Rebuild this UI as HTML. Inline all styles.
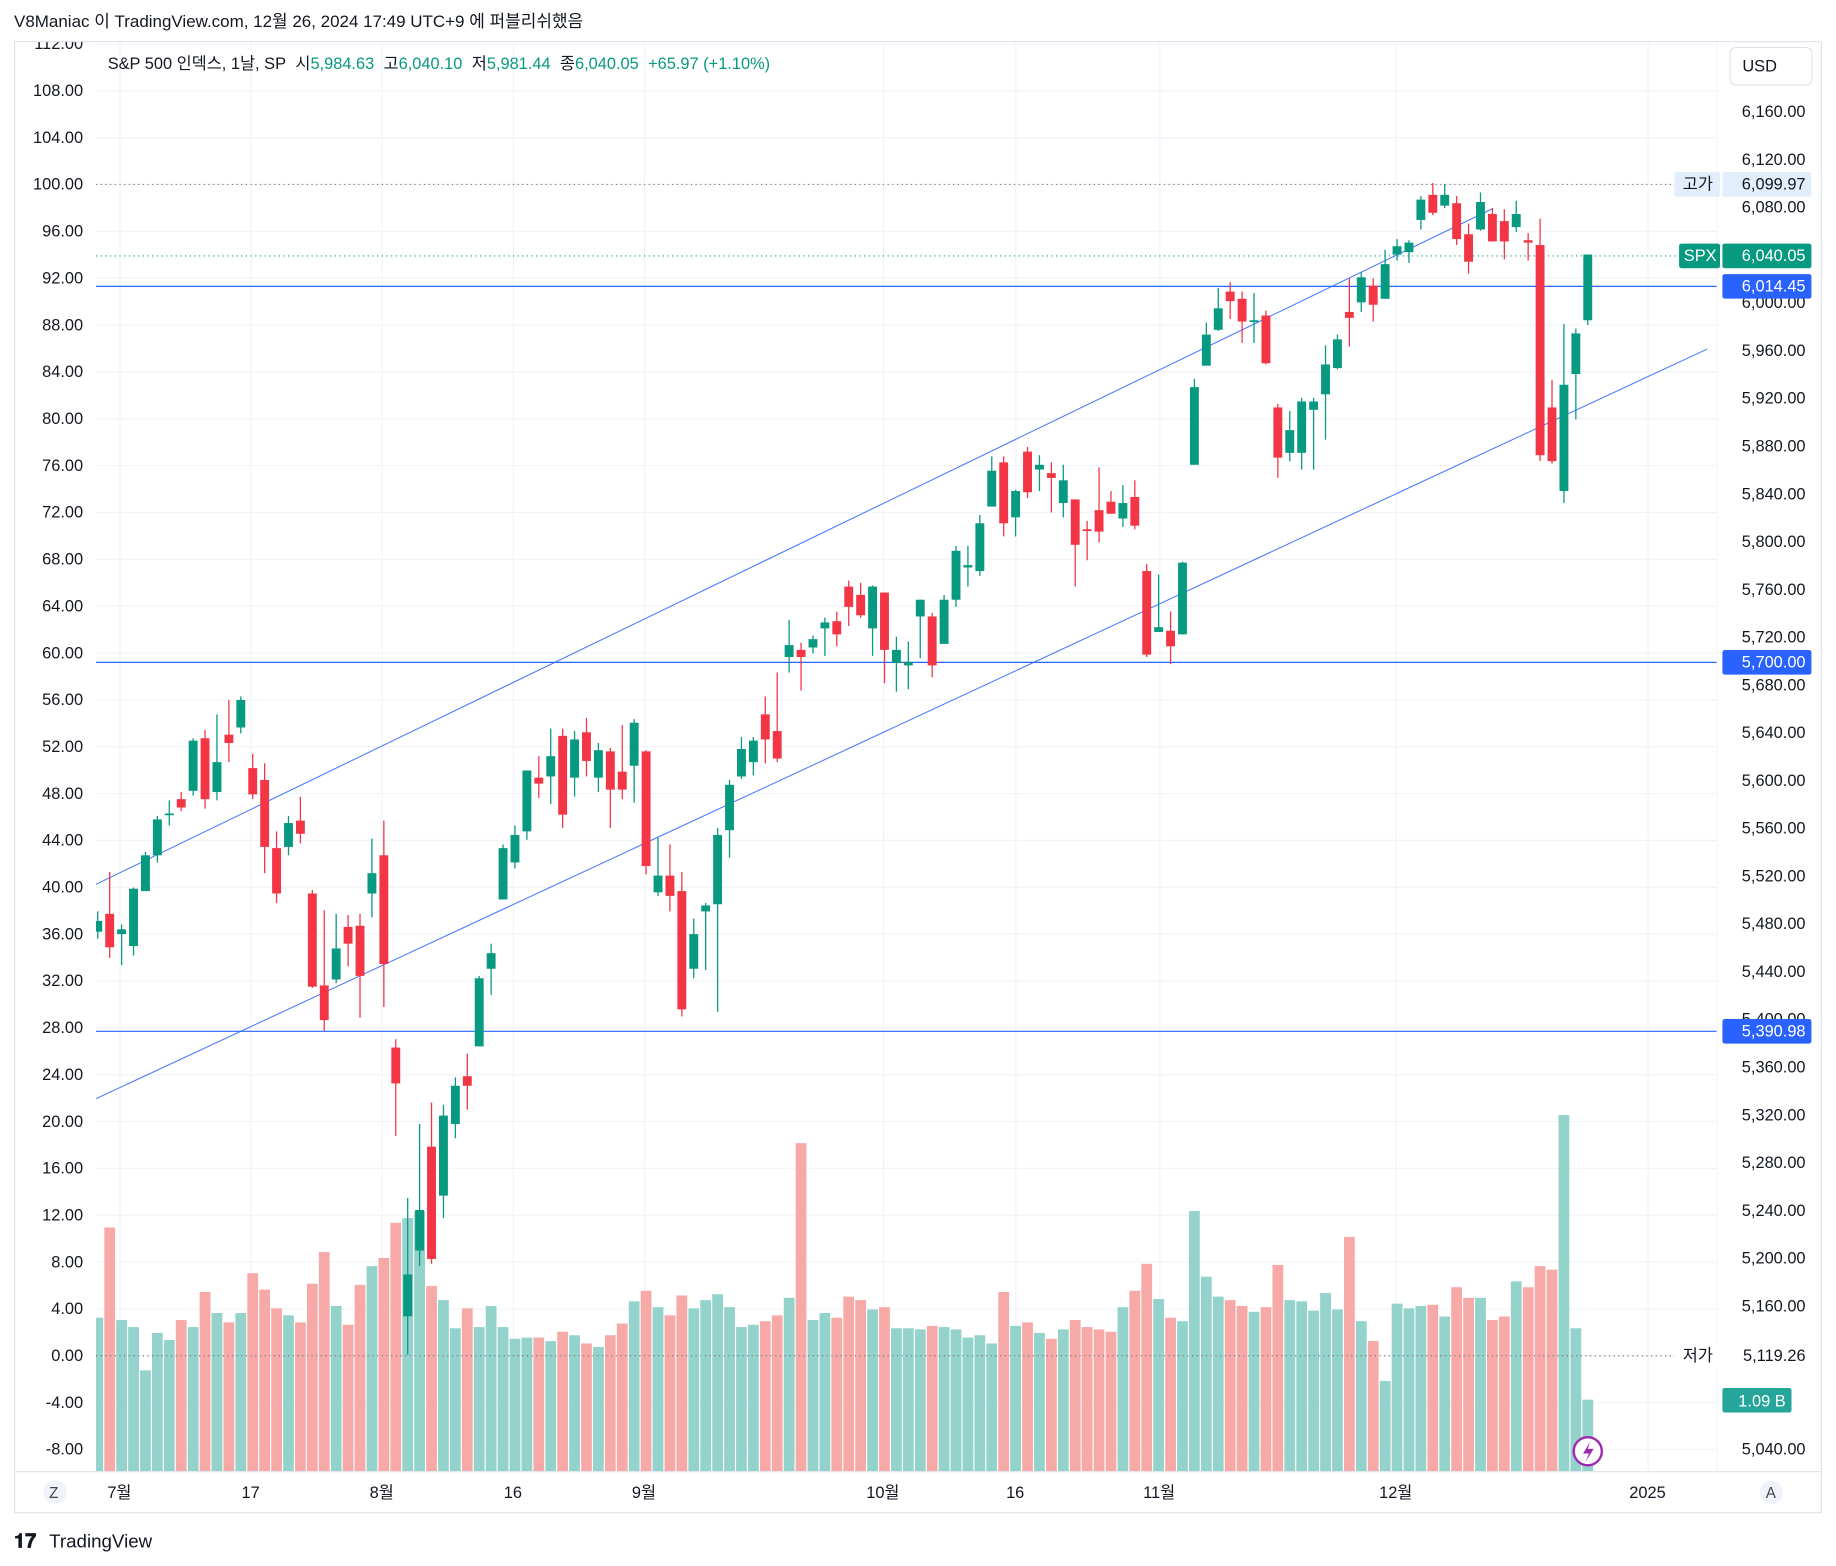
<!DOCTYPE html>
<html><head><meta charset="utf-8"><style>
html,body{margin:0;padding:0;background:#fff;width:1836px;height:1566px;overflow:hidden}
svg{display:block}
text{font-family:"Liberation Sans","Noto Sans CJK KR",sans-serif;}
</style></head><body>
<svg id="s" width="1836" height="1566" viewBox="0 0 1568 1337" preserveAspectRatio="none" xmlns="http://www.w3.org/2000/svg">
<defs><clipPath id="pc"><rect x="82" y="36" width="1384" height="1220"/></clipPath>
<clipPath id="fc"><rect x="12" y="36" width="1543" height="1256"/></clipPath></defs>
<rect width="1568" height="1337" fill="#fff"/>
<text x="12" y="23" font-size="14.5" fill="#131722">V8Maniac 이 TradingView.com, 12월 26, 2024 17:49 UTC+9 에 퍼블리쉬했음</text>
<rect x="12.5" y="35.5" width="1543" height="1256" fill="none" stroke="#e0e3eb"/>
<g id="grid" stroke="#f0f3fa" stroke-width="1"></g>
<g clip-path="url(#pc)"><g id="vol"></g><g id="lines"></g><g id="candles"></g></g>
<g id="labels" font-size="14" fill="#131722" clip-path="url(#fc)"></g>
<line x1="12" y1="1256.5" x2="1555" y2="1256.5" stroke="#e0e3eb"/>
<text x="92" y="59" font-size="14" fill="#131722">S&amp;P 500 인덱스, 1날, SP<tspan dx="8">시</tspan><tspan fill="#089981">5,984.63</tspan><tspan dx="8">고</tspan><tspan fill="#089981">6,040.10</tspan><tspan dx="8">저</tspan><tspan fill="#089981">5,981.44</tspan><tspan dx="8">종</tspan><tspan fill="#089981">6,040.05</tspan><tspan dx="8" fill="#089981">+65.97 (+1.10%)</tspan></text>
<rect x="1477.5" y="40.5" width="70" height="32" rx="5" fill="#fff" stroke="#e0e3eb"/>
<text x="1488" y="61" font-size="14" fill="#131722">USD</text>
<circle cx="47" cy="1274" r="10" fill="#f0f3fa"/><text x="42" y="1279" font-size="13" fill="#434651">Z</text>
<circle cx="1513" cy="1274" r="10" fill="#f0f3fa"/><text x="1508" y="1279" font-size="13" fill="#434651">A</text>
<circle cx="1356" cy="1239" r="12" fill="#fff" stroke="#9c27b0" stroke-width="2"/>
<path d="M1358 1231 L1352 1241 L1357 1241 L1354 1248 L1361 1237 L1356 1237 Z" fill="#9c27b0"/>
<text x="12" y="1321" font-size="17" font-weight="bold" fill="#131722">𝟏𝟕</text>
<text x="42" y="1321" font-size="16" fill="#131722">TradingView</text>
</svg>
<script>
const NS="http://www.w3.org/2000/svg";
function el(p,t,a,txt){const e=document.createElementNS(NS,t);for(const k in a)e.setAttribute(k,a[k]);if(txt!==undefined)e.textContent=txt;document.getElementById(p).appendChild(e);return e;}
const Y=p=>95+(6160-p)*1.0196;
for(let v=112,y=37;v>=-8;v-=4,y+=40){el('grid','line',{x1:82,x2:1466,y1:y+0.5,y2:y+0.5});}
const tl=[[102,'7월'],[214,'17'],[326,'8월'],[438,'16'],[550,'9월'],[754,'10월'],[867,'16'],[990,'11월'],[1192,'12월'],[1407,'2025']];
tl.forEach(t=>{el('grid','line',{x1:t[0]+.5,x2:t[0]+.5,y1:36,y2:1256});});
el('grid','line',{x1:1466.5,x2:1466.5,y1:36,y2:1256});
for(let v=112,y=37;v>=-8;v-=4,y+=40){el('labels','text',{x:71,y:y+5,'text-anchor':'end'},v.toFixed(2));}
[6160,6120,6080,6000,5960,5920,5880,5840,5800,5760,5720,5680,5640,5600,5560,5520,5480,5440,5400,5360,5320,5280,5240,5200,5160,5040].forEach(p=>{
 el('labels','text',{x:1542,y:Y(p)+5,'text-anchor':'end'},p.toLocaleString('en-US',{minimumFractionDigits:2}));});
tl.forEach(t=>{el('labels','text',{x:t[0],y:1279,'text-anchor':'middle'},t[1]);});
const D=[[5473,5490,5467,5482],[5488,5523,5451,5460],[5471,5479,5445,5475],[5461,5510,5453,5509],[5507,5540,5507,5537],[5537,5570,5531,5567],[5572,5583,5562,5572],[5584,5590,5574,5577],[5591,5635,5587,5633],[5635,5642,5576,5584],[5590,5655,5583,5615],[5638,5667,5615,5631],[5644,5670,5639,5667],[5610,5622,5584,5588],[5600,5614,5522,5544],[5543,5557,5497,5505],[5544,5570,5537,5564],[5566,5586,5547,5555],[5505,5508,5426,5427],[5428,5491,5390,5399],[5433,5488,5430,5459],[5477,5487,5444,5463],[5478,5488,5401,5436],[5505,5551,5485,5522],[5537,5566,5410,5446],[5376,5383,5302,5346],[5151,5250,5119,5186],[5206,5312,5193,5240],[5293,5330,5195,5199],[5252,5328,5233,5319],[5312,5351,5300,5344],[5352,5371,5324,5344],[5377,5436,5377,5434],[5442,5463,5420,5455],[5500,5546,5500,5543],[5531,5562,5526,5554],[5557,5608,5550,5608],[5602,5620,5585,5597],[5603,5643,5580,5620],[5637,5643,5560,5571],[5602,5641,5586,5634],[5640,5652,5603,5616],[5602,5631,5590,5625],[5624,5627,5560,5592],[5607,5646,5584,5592],[5612,5651,5581,5648],[5624,5625,5521,5528],[5506,5552,5503,5520],[5520,5546,5490,5503],[5507,5523,5402,5408],[5442,5484,5434,5471],[5490,5497,5441,5495],[5496,5560,5406,5554],[5558,5600,5535,5596],[5603,5636,5601,5626],[5615,5636,5604,5633],[5655,5670,5614,5634],[5641,5690,5615,5618],[5703,5734,5690,5713],[5709,5715,5675,5703],[5711,5721,5706,5718],[5727,5736,5704,5732],[5733,5741,5712,5722],[5762,5767,5729,5745],[5755,5765,5736,5738],[5727,5763,5704,5762],[5757,5757,5681,5709],[5698,5720,5674,5709],[5696,5716,5676,5699],[5737,5751,5702,5751],[5737,5740,5686,5696],[5714,5755,5714,5751],[5751,5796,5745,5792],[5778,5796,5762,5780],[5775,5822,5771,5815],[5829,5871,5829,5859],[5866,5871,5804,5815],[5820,5843,5804,5842],[5875,5879,5836,5841],[5860,5872,5842,5864],[5857,5866,5824,5853],[5832,5864,5820,5851],[5835,5835,5762,5797],[5810,5817,5784,5809],[5826,5862,5799,5808],[5833,5842,5823,5823],[5819,5847,5812,5832],[5837,5851,5810,5813],[5775,5781,5703,5705],[5724,5772,5724,5728],[5725,5741,5697,5712],[5722,5783,5722,5782],[5864,5936,5864,5929],[5947,5983,5947,5973],[5977,6012,5976,5995],[6009,6017,5986,6001],[6003,6009,5966,5984],[5985,6008,5966,5985],[5989,5993,5948,5949],[5912,5915,5853,5870],[5874,5909,5867,5893],[5874,5920,5860,5917],[5910,5920,5860,5917],[5923,5964,5885,5948],[5945,5973,5944,5969],[5992,6020,5963,5987],[6000,6025,5992,6021],[6014,6020,5984,5998],[6003,6044,6003,6032],[6040,6053,6035,6047],[6042,6052,6033,6050],[6069,6089,6061,6086],[6090,6100,6073,6075],[6081,6099,6079,6090],[6083,6089,6048,6053],[6057,6066,6024,6034],[6061,6092,6060,6084],[6074,6079,6051,6051],[6068,6078,6036,6051],[6063,6085,6059,6074],[6052,6058,6035,6050],[6048,6070,5867,5872],[5912,5935,5865,5867],[5842,5982,5832,5931],[5940,5978,5902,5974],[5985,6040,5981,6040]];
const V=[1125,1048,1127,1133,1170,1138,1144,1127,1133,1103,1121,1129,1121,1087,1101,1117,1123,1129,1096,1069,1115,1131,1097,1081,1074,1044,1040,1034,1098,1110,1134,1117,1133,1115,1133,1143,1142,1142,1145,1137,1140,1147,1150,1140,1130,1111,1102,1116,1123,1106,1117,1110,1105,1116,1133,1131,1128,1123,1108,976,1127,1121,1125,1107,1110,1118,1116,1134,1134,1135,1132,1133,1135,1142,1140,1147,1103,1132,1129,1138,1143,1135,1127,1133,1135,1137,1116,1102,1079,1109,1125,1128,1034,1090,1107,1110,1115,1120,1116,1080,1110,1111,1119,1104,1118,1056,1128,1145,1179,1113,1117,1115,1114,1124,1099,1108,1108,1127,1124,1094,1099,1081,1084,952,1134,1195];
const N=D.length, step=10.18;
D.forEach((d,i)=>{
 const x=1356-(N-1-i)*step; const up=d[3]>=d[0];
 const vt=V[i]||1130;
 el('vol','rect',{x:x-4.6,y:vt,width:9.2,height:1256-vt,fill:up?'#93d3cc':'#f7a9a8'});
 const c=up?'#089981':'#f23645';
 el('candles','line',{x1:x,x2:x,y1:Y(d[1]),y2:Y(d[2]),stroke:c,'stroke-width':1.1});
 const t=Y(Math.max(d[0],d[3])),b=Y(Math.min(d[0],d[3]));
 el('candles','rect',{x:x-3.8,y:t,width:7.6,height:Math.max(1.5,b-t),fill:c});
});
el('lines','line',{x1:82,x2:1466,y1:157.5,y2:157.5,stroke:'#787b86','stroke-dasharray':'1 3'});
el('lines','line',{x1:82,x2:1466,y1:1157.5,y2:1157.5,stroke:'#787b86','stroke-dasharray':'1 3'});
el('lines','line',{x1:82,x2:1466,y1:218.5,y2:218.5,stroke:'#089981','stroke-dasharray':'1 3'});
[244.5,565.5,880.5].forEach(y=>el('lines','line',{x1:82,x2:1470,y1:y,y2:y,stroke:'#2962ff','stroke-width':1}));
el('lines','line',{x1:82,y1:755,x2:1275,y2:178,stroke:'#2962ff','stroke-width':0.9,opacity:.85});
el('lines','line',{x1:82,y1:938,x2:1458,y2:298,stroke:'#2962ff','stroke-width':0.9,opacity:.85});
function tag(y,txt,bg,fg,lab,lbg,lfg,lw){
 el('labels','rect',{x:1471,y:y-10,width:76,height:21,rx:2,fill:bg});
 el('labels','text',{x:1542,y:y+5,'text-anchor':'end',fill:fg},txt);
 if(lab){el('labels','rect',{x:1470-lw,y:y-10,width:lw-1,height:21,rx:2,fill:lbg});
 el('labels','text',{x:1470-lw/2,y:y+5,'text-anchor':'middle',fill:lfg},lab);}
}
tag(157,'6,099.97','#e3eefc','#131722','고가','#e3eefc','#131722',40);
tag(218,'6,040.05','#089981','#fff','SPX','#089981','#fff',36);
tag(244,'6,014.45','#2962ff','#fff');
tag(565,'5,700.00','#2962ff','#fff');
tag(880,'5,390.98','#2962ff','#fff');
tag(1157,'5,119.26','#fff','#131722','저가','#fff','#131722',40);
el('labels','rect',{x:1471,y:1185,width:59,height:21,rx:2,fill:'#26a69a'});
el('labels','text',{x:1525,y:1201,'text-anchor':'end',fill:'#fff'},'1.09 B');
</script>
</body></html>
